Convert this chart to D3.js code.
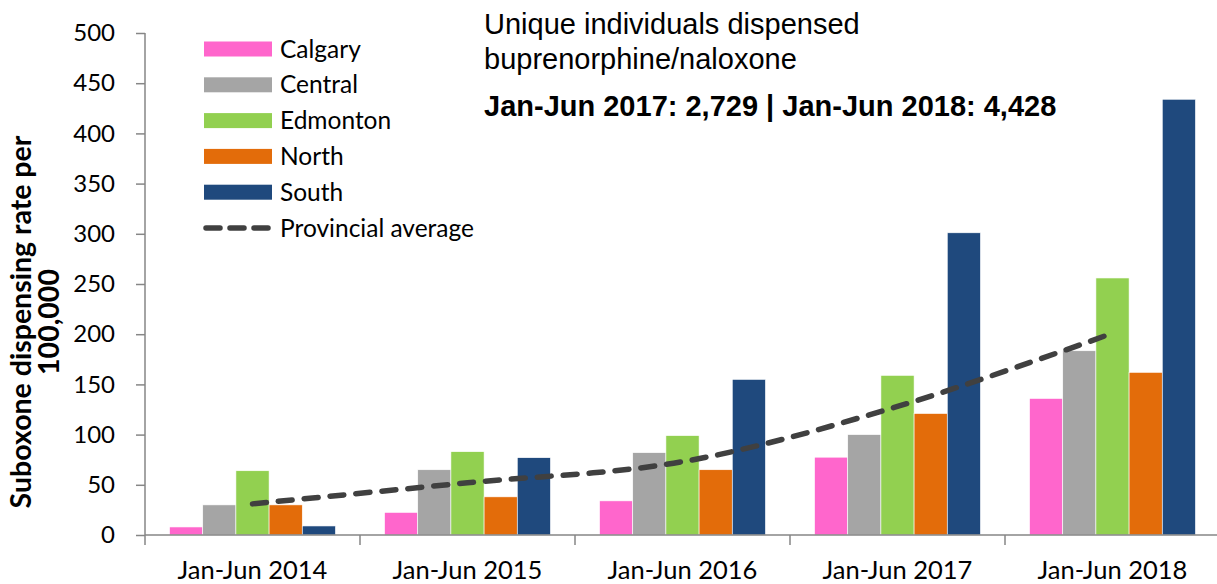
<!DOCTYPE html>
<html>
<head>
<meta charset="utf-8">
<script src="https://cdn.jsdelivr.net/npm/d3@7"></script>
<style>
  body { margin: 0; background: #fff; }
  svg { display: block; }
</style>
</head>
<body>
<svg id="chart" width="1217" height="584"></svg>
<script>
// Chart data
const periods = ["Jan-Jun 2014", "Jan-Jun 2015", "Jan-Jun 2016", "Jan-Jun 2017", "Jan-Jun 2018"];
const zones = ["Calgary", "Central", "Edmonton", "North", "South"];
const zoneColours = ["#FF66CC", "#A5A5A5", "#92D050", "#E36C0A", "#1F497D"];
const calgary = [8, 22.5, 34, 77.5, 136];
const central = [30, 65, 82, 100, 183.5];
const edmonton = [64, 83, 99, 159, 256];
const north = [30, 38, 65, 121, 162];
const south = [9, 77, 155, 301, 434];
const provincialAvg = [31, 52, 73, 128, 201];
const yTicks = [0, 50, 100, 150, 200, 250, 300, 350, 400, 450, 500];

const zoneValues = [calgary, central, edmonton, north, south];

const svg = d3.select("#chart");
const plotLeft = 145, plotRight = 1220, plotTop = 33, plotBottom = 535;
const axisColour = "#868686";
const tickFont = "Lato, 'Open Sans', sans-serif";

// Scales
const x = d3.scaleBand().domain(periods).range([plotLeft, plotRight]);
const xInner = d3.scaleBand().domain(zones).range([0, x.bandwidth()]).paddingOuter(0.74);
const y = d3.scaleLinear().domain([0, 500]).range([plotBottom, plotTop]);

// Bars
const barData = [];
periods.forEach(function(p, i) {
    zones.forEach(function(z, j) {
        barData.push({ period: p, zone: z, value: zoneValues[j][i], colour: zoneColours[j] });
    });
});

svg.append("g").selectAll("rect")
    .data(barData)
    .enter().append("rect")
    .attr("x", function(d) { return x(d.period) + xInner(d.zone); })
    .attr("y", function(d) { return y(d.value); })
    .attr("width", xInner.bandwidth())
    .attr("height", function(d) { return y(0) - y(d.value); })
    .attr("fill", function(d) { return d.colour; })
    .attr("stroke", "#ffffff")
    .attr("stroke-width", 0.6);

// Y axis
const yAxis = svg.append("g")
    .attr("transform", "translate(" + plotLeft + ",0)")
    .call(d3.axisLeft(y).tickValues(yTicks).tickSize(9).tickPadding(21));
yAxis.select(".domain").attr("stroke", axisColour).attr("stroke-width", 1.5)
    .attr("d", "M0," + plotTop + "V" + (plotBottom + 10));
yAxis.selectAll(".tick line").attr("stroke", axisColour).attr("stroke-width", 1.5);
yAxis.selectAll(".tick text")
    .attr("fill", "#000")
    .style("font-family", tickFont)
    .style("font-size", "24px");

// X axis: line plus ticks at category boundaries
const xAxis = svg.append("g");
xAxis.append("line")
    .attr("x1", plotLeft).attr("x2", plotRight)
    .attr("y1", plotBottom).attr("y2", plotBottom)
    .attr("stroke", axisColour).attr("stroke-width", 1.5);
xAxis.selectAll(".xtick")
    .data(periods.slice(1))
    .enter().append("line")
    .attr("class", "xtick")
    .attr("x1", function(d) { return x(d); })
    .attr("x2", function(d) { return x(d); })
    .attr("y1", plotBottom).attr("y2", plotBottom + 10)
    .attr("stroke", axisColour).attr("stroke-width", 1.5);
xAxis.selectAll(".xlabel")
    .data(periods)
    .enter().append("text")
    .attr("class", "xlabel")
    .attr("x", function(d) { return x(d) + x.bandwidth() / 2; })
    .attr("y", 579)
    .attr("text-anchor", "middle")
    .style("font-family", tickFont)
    .style("font-size", "25.5px")
    .text(function(d) { return d; });

// Provincial average line (smoothed, dashed)
const line = d3.line()
    .x(function(d, i) { return x(periods[i]) + x.bandwidth() / 2; })
    .y(function(d) { return y(d); })
    .curve(d3.curveCatmullRom);

svg.append("path")
    .datum(provincialAvg)
    .attr("d", line)
    .attr("fill", "none")
    .attr("stroke", "#404040")
    .attr("stroke-width", 5.5)
    .attr("stroke-linecap", "round")
    .attr("stroke-dasharray", "14,12");

// Y axis title
const yTitle = svg.append("text")
    .attr("transform", "translate(31,322) rotate(-90)")
    .attr("text-anchor", "middle")
    .style("font-family", tickFont)
    .style("font-size", "28.5px")
    .style("font-weight", "bold");
yTitle.append("tspan").attr("x", 0).attr("dy", 0).text("Suboxone dispensing rate per");
yTitle.append("tspan").attr("x", 0).attr("dy", 28).text("100,000");

// Legend
const legend = svg.append("g");
const legendRows = zones.concat(["Provincial average"]);
legendRows.forEach(function(name, i) {
    const cy = 49 + i * 35.8;
    if (i < zones.length) {
        legend.append("rect")
            .attr("x", 204).attr("y", cy - 7.5)
            .attr("width", 68).attr("height", 15)
            .attr("fill", zoneColours[i]);
    } else {
        legend.append("line")
            .attr("x1", 206).attr("x2", 268)
            .attr("y1", cy).attr("y2", cy)
            .attr("stroke", "#404040")
            .attr("stroke-width", 5.5)
            .attr("stroke-linecap", "round")
            .attr("stroke-dasharray", "14,10");
    }
    legend.append("text")
        .attr("x", 280).attr("y", cy + 8.5)
        .style("font-family", tickFont)
        .style("font-size", "24.5px")
        .text(name);
});

// Annotation
const note = svg.append("g").style("font-family", "'Liberation Sans', Arial, sans-serif");
note.append("text").attr("x", 484).attr("y", 34).style("font-size", "29px")
    .text("Unique individuals dispensed");
note.append("text").attr("x", 484).attr("y", 69).style("font-size", "29px")
    .text("buprenorphine/naloxone");
note.append("text").attr("x", 484).attr("y", 116).style("font-size", "29px").style("font-weight", "bold")
    .text("Jan-Jun 2017: 2,729 | Jan-Jun 2018: 4,428");
</script>
</body>
</html>
